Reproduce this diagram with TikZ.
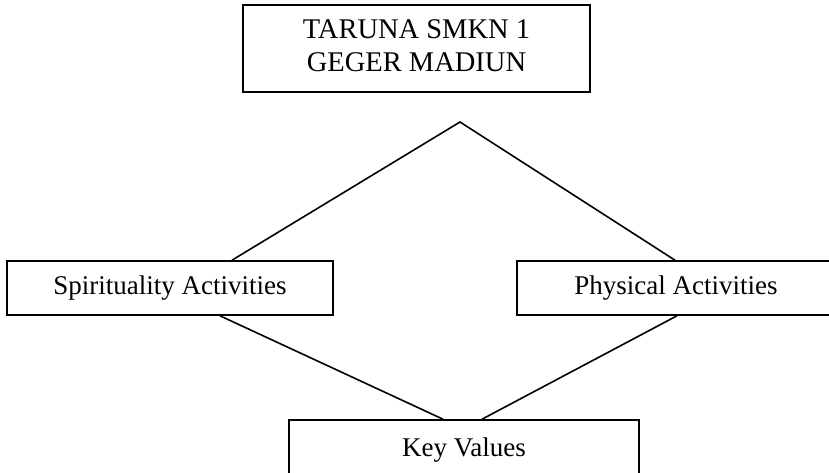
\documentclass[tikz,border=0pt]{standalone}
\usepackage{fontspec}
\setmainfont{Liberation Serif}
\begin{document}
\begin{tikzpicture}[x=1pt,y=-1pt,
  box/.style={draw, line width=1.6pt, inner sep=0pt, align=center,
    font=\fontsize{27}{34}\selectfont},
  conn/.style={line width=1.6pt}]
\useasboundingbox (0,0) rectangle (829,473);
\clip (0,0) rectangle (829,473);
\node[box, minimum width=347pt, minimum height=87pt, font=\fontsize{28.5}{33.5}\selectfont] (top) at (416.5,48.5) {\raisebox{-1.5pt}{\begin{tabular}{@{}c@{}}TARUNA SMKN 1\\GEGER MADIUN\end{tabular}}};
\node[box, minimum width=326pt, minimum height=54pt] (sp) at (170,288) {Spirituality Activities};
\node[box, minimum width=318pt, minimum height=54pt] (ph) at (676,288) {Physical Activities};
\node[box, minimum width=350pt, minimum height=60pt] (kv) at (464,450) {\raisebox{4pt}{Key Values}};
\coordinate (apex) at (460,122);
\draw[conn] ([xshift=62pt]sp.north) -- (apex) -- ([xshift=-1pt]ph.north);
\draw[conn] ([xshift=50pt]sp.south) -- ([xshift=-21pt]kv.north);
\draw[conn] ([xshift=1pt]ph.south) -- ([xshift=18pt]kv.north);
\end{tikzpicture}
\end{document}
